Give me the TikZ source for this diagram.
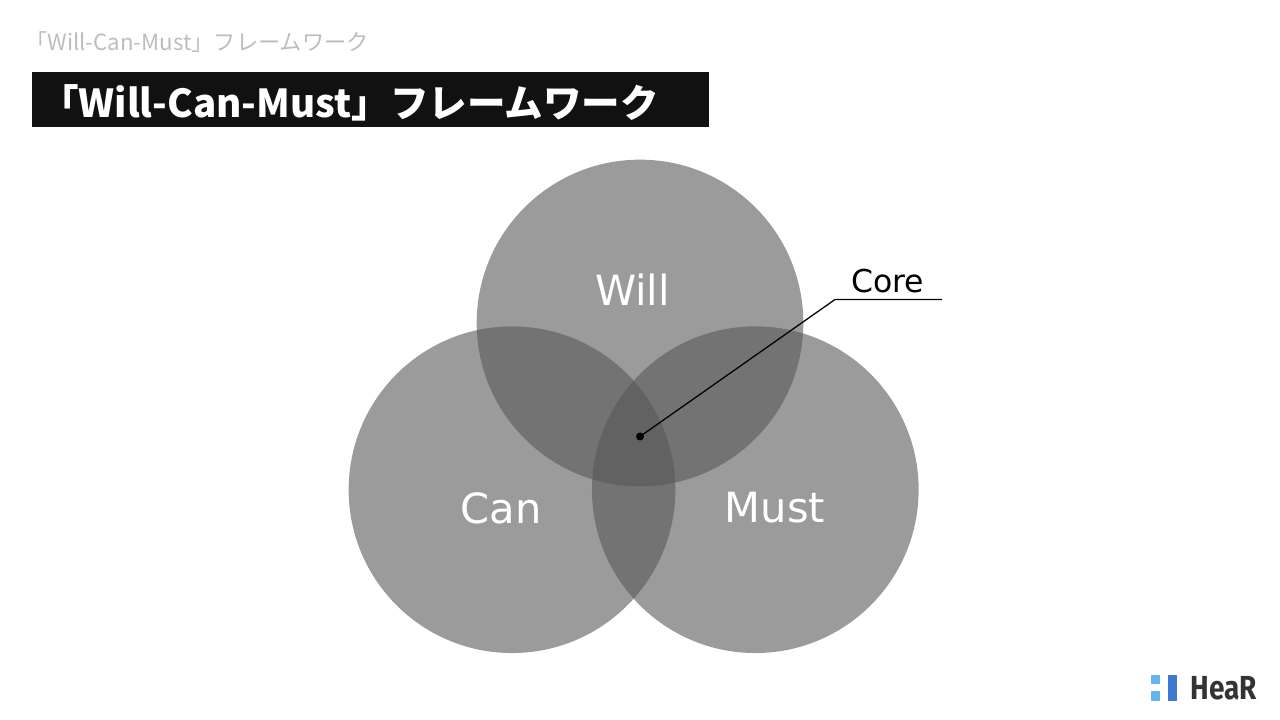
\documentclass[tikz,border=0pt]{standalone}
\usepackage{fontspec}
\setmainfont{DejaVu Sans}
\newfontfamily\jpfont{Noto Sans CJK JP}
\newfontfamily\logofont{Fira Sans}
\definecolor{circlegray}{HTML}{585858}
\definecolor{barblack}{HTML}{111111}
\definecolor{subgray}{HTML}{BDBDBD}
\definecolor{logolight}{HTML}{64B5F0}
\definecolor{logodark}{HTML}{3F78CC}
\definecolor{logotext}{HTML}{333333}

\begin{document}
\begin{tikzpicture}[
            x=0.75pt, y=-0.75pt,
            % Circulos del diagrama
            venn/.style={circle, fill=circlegray, fill opacity=0.6, minimum size=245pt, inner sep=0pt},
            vennlabel/.style={text=white, font=\fontsize{31.2}{36}\selectfont},
            titlebar/.style={fill=barblack, minimum width=508pt, minimum height=41pt, inner sep=0pt},
            leader/.style={draw, line width=0.95pt},
            logobox/.style={inner sep=0pt}
        ]
            \useasboundingbox (0,0) rectangle (1280,720);

            \node [anchor=west, inner sep=0pt, text=subgray, font=\fontsize{16.7}{20}\selectfont] (subtitle) at (25,42) {\jpfont「Will-Can-Must」フレームワーク};
            \node [titlebar, anchor=north west] (bar) at (31.5,72) {};
            \node [anchor=west, inner sep=0pt, text=white, font=\bfseries\fontsize{28.9}{34}\selectfont] (title) at (40,102.5) {\jpfont「Will-Can-Must」フレームワーク};

            \node [venn] (will) at (640,323) {};
            \node [venn] (can) at (512,489.7) {};
            \node [venn] (must) at (755.3,489.7) {};

            \node [vennlabel] (willtext) at (632.5,290) {Will};
            \node [vennlabel] (cantext) at (501,508) {Can};
            \node [vennlabel] (musttext) at (775,508) {Must};

            % Linea de referencia
            \node [circle, fill=black, minimum size=6pt, inner sep=0pt] (coredot) at (640,436.5) {};
            \coordinate (bend) at (835,299.5);
            \coordinate (lineend) at (942,299.5);
            \path [leader] (coredot.center) -- (bend) -- (lineend);
            \node [font=\fontsize{23.6}{26}\selectfont, text=black, inner sep=0pt] (core) at (887.5,281) {Core};

            % Logo
            \node [logobox, fill=logolight, minimum width=7pt, minimum height=7pt] (logoa) at (1155.5,679.5) {};
            \node [logobox, fill=logolight, minimum width=7pt, minimum height=7pt] (logob) at (1155.5,696) {};
            \node [logobox, fill=logodark, minimum width=7pt, minimum height=20pt] (logoc) at (1172.7,688) {};
            \node [logobox, transform shape, xscale=0.84, text=logotext, font=\logofont\bfseries\fontsize{25}{28}\selectfont] (logotxt) at (1224,688) {HeaR};
        \end{tikzpicture}
\end{document}
